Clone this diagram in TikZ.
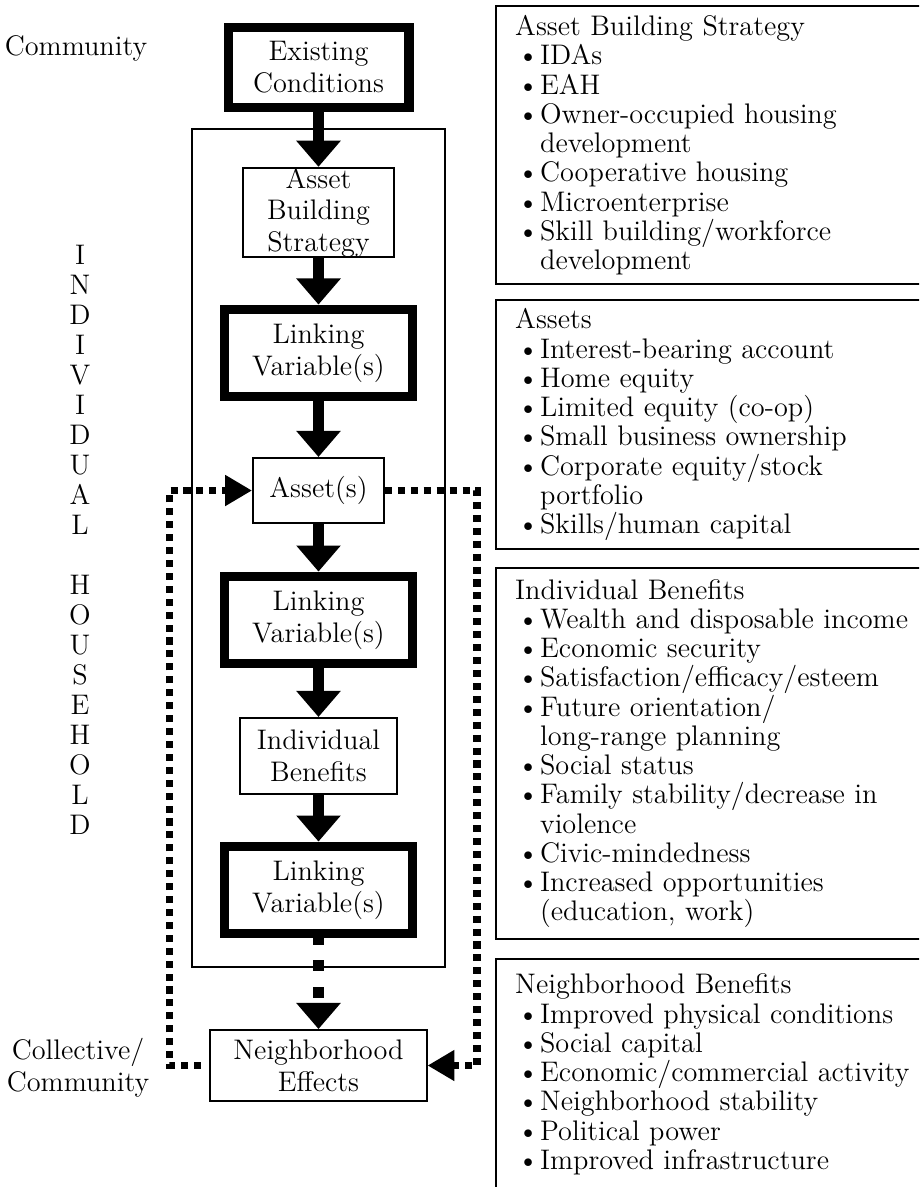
\documentclass[tikz,border=0pt]{standalone}
\usetikzlibrary{arrows.meta, positioning}
\newcommand{\bitem}[1]{\hspace*{0.9pt}\makebox[9.3pt][l]{\textbullet}#1}
\newcommand{\bcont}[1]{\hspace*{10.2pt}#1}

\begin{document}
\begin{tikzpicture}[x=0.41pt, y=-0.41pt,
        font=\fontsize{11.6}{13}\selectfont,
        thinbox/.style={draw, line width=0.8pt, align=center, inner sep=0pt},
        thickbox/.style={draw, line width=3.7pt, align=center, inner sep=0pt},
        blockarrow/.style={line width=4.9pt, -{Triangle[width=17.6pt, length=10.7pt]}},
        dotline/.style={line width=2.9pt, dash pattern=on 2.9pt off 2.4pt, -{Triangle[width=12pt, length=11pt]}},
        dashline/.style={line width=4.5pt, dash pattern=on 4.5pt off 6.5pt, dash phase=2pt, -{Triangle[width=17.6pt, length=10.7pt]}},
        listbox/.style={draw, line width=1pt, anchor=north west, text width=180pt, inner xsep=7.8pt, inner ysep=3pt, align=left, font=\fontsize{11.6}{12}\selectfont}]
        \useasboundingbox (0,0) rectangle (919,1187);
        \clip (0,0) rectangle (919,1187);

        % household frame
        \node[draw, line width=0.8pt, minimum width=103.7pt, minimum height=343.6pt] (hhframe) at (318.5,548) {};

        % main column
        \node[thickbox, minimum width=74.2pt, minimum height=32.8pt] (exist) at (318.5,67.5) {Existing\\Conditions};
        \node[thinbox, minimum width=61.9pt, minimum height=36.5pt] (strat) at (318.5,212.5) {Asset\\Building\\Strategy};
        \node[thickbox, minimum width=76.7pt, minimum height=36pt] (link1) at (318.5,353) {Linking\\Variable(s)};
        \node[thinbox, minimum width=53.7pt, minimum height=26.7pt] (asset) at (318.5,490.5) {Asset(s)};
        \node[thickbox, minimum width=76.7pt, minimum height=36pt] (link2) at (318.5,620) {Linking\\Variable(s)};
        \node[thinbox, minimum width=64pt, minimum height=31.2pt] (indben) at (318.5,756) {Individual\\Benefits};
        \node[thickbox, minimum width=76.7pt, minimum height=36pt] (link3) at (318.5,890) {Linking\\Variable(s)};
        \node[thinbox, minimum width=88.6pt, minimum height=29.1pt] (nbheff) at (318.5,1065.5) {Neighborhood\\Effects};

        \draw[blockarrow] (exist) -- (strat);
        \draw[blockarrow] (strat) -- (link1);
        \draw[blockarrow] (link1) -- (asset);
        \draw[blockarrow] (asset) -- (link2);
        \draw[blockarrow] (link2) -- (indben);
        \draw[blockarrow] (indben) -- (link3);
        \draw[dashline] (link3) -- (nbheff);

        % feedback loops
        \draw[dotline, shorten <=3.5pt] (nbheff.west) -- ++(-40,0) |- (asset.west);
        \draw[dotline] (asset.east) -- ++(92,0) |- (nbheff.east);

        % side labels
        \node (commtop) at (76,48) {Community};
        \node[align=center] (collect) at (78,1068) {Collective/\\Community};
        \node[align=center, font=\fontsize{11.6}{12.3}\selectfont] (indivhh) at (80,540)
            {I\\N\\D\\I\\V\\I\\D\\U\\A\\L\\\mbox{}\\H\\O\\U\\S\\E\\H\\O\\L\\D};

        % lists
        \node[listbox, minimum height=114pt] (stratlist) at (495,5) {Asset Building Strategy\\
            \bitem{IDAs}\\
            \bitem{EAH}\\
            \bitem{Owner-occupied housing}\\
            \bcont{development}\\
            \bitem{Cooperative housing}\\
            \bitem{Microenterprise}\\
            \bitem{Skill building/workforce}\\
            \bcont{development}};
        \node[listbox, minimum height=102pt] (assetlist) at (495,299) {Assets\\
            \bitem{Interest-bearing account}\\
            \bitem{Home equity}\\
            \bitem{Limited equity (co-op)}\\
            \bitem{Small business ownership}\\
            \bitem{Corporate equity/stock}\\
            \bcont{portfolio}\\
            \bitem{Skills/human capital}};
        \node[listbox, minimum height=152pt] (indlist) at (495,567) {Individual Benefits\\
            \bitem{Wealth and disposable income}\\
            \bitem{Economic security}\\
            \bitem{Satisfaction/efficacy/esteem}\\
            \bitem{Future orientation/}\\
            \bcont{long-range planning}\\
            \bitem{Social status}\\
            \bitem{Family stability/decrease in}\\
            \bcont{violence}\\
            \bitem{Civic-mindedness}\\
            \bitem{Increased opportunities}\\
            \bcont{(education, work)}};
        \node[listbox, inner ysep=6pt] (nbhlist) at (495,958) {Neighborhood Benefits\\
            \bitem{Improved physical conditions}\\
            \bitem{Social capital}\\
            \bitem{Economic/commercial activity}\\
            \bitem{Neighborhood stability}\\
            \bitem{Political power}\\
            \bitem{Improved infrastructure}\\[30pt]\mbox{}};
\end{tikzpicture}
\end{document}
